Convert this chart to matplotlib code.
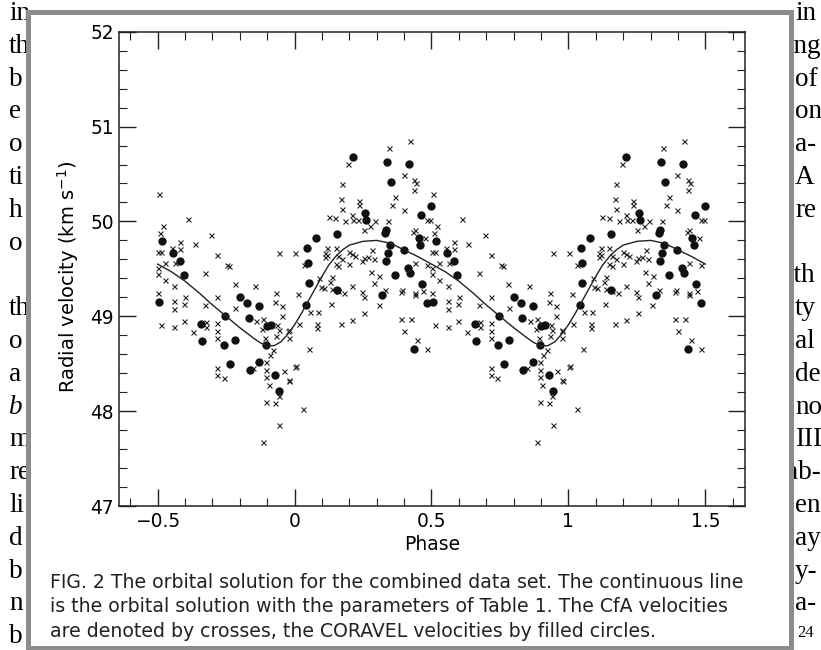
import numpy as np
import matplotlib.pyplot as plt
from matplotlib.patches import Rectangle
from matplotlib.ticker import MultipleLocator

# CfA velocities (crosses), phase read in [-0.5, 0.5)
cfa_phase = [-0.496, -0.39, -0.48, -0.49, -0.417, -0.305, -0.365, -0.498, -0.488, -0.447,
             -0.417, -0.283, -0.435, -0.472, -0.499, -0.247, -0.24, -0.055, 0.001, -0.499,
             -0.474, -0.326, -0.405, -0.44, -0.219, -0.143, -0.499, -0.4, -0.283, -0.067,
             -0.44, -0.44, -0.403, -0.326, -0.216, -0.07, -0.046, -0.115, -0.14, -0.046,
             -0.488, -0.44, -0.403, -0.371, -0.322, -0.322, -0.283, -0.283, -0.283, -0.119,
             -0.064, -0.058, -0.022, -0.067, -0.022, -0.107, -0.077, -0.091, -0.103, 0.003,
             -0.15, -0.103, -0.04, -0.103, -0.022, -0.095, -0.058, -0.283, -0.283, -0.259,
             -0.103, -0.07, -0.055, -0.115,
             0.012, 0.057, 0.085, 0.017, 0.082, 0.082, -0.024, 0.054, 0.005, -0.02,
             0.031, 0.133, 0.182, 0.17, 0.209, 0.248, 0.254, 0.255, 0.307, 0.389,
             0.44, 0.389, 0.426, 0.401, 0.447, 0.483,
             0.422, 0.346, 0.195, 0.398, 0.438, 0.445, 0.173, 0.438, 0.367, 0.17,
             0.236, 0.236, 0.355, 0.398, 0.173, 0.209, 0.124, 0.149, 0.215, 0.231,
             0.185, 0.276, 0.295, 0.343, 0.252, 0.44, 0.485, 0.495, 0.477, 0.434,
             0.44, 0.483, 0.282, 0.255, 0.27, 0.29, 0.246, 0.2, 0.21, 0.22,
             0.16, 0.175, 0.2, 0.12, 0.15, 0.12, 0.16, 0.15, 0.11, 0.11,
             0.28, 0.31, 0.29, 0.392, 0.44, 0.137, 0.13, 0.137, 0.16, 0.09,
             0.095, 0.033, 0.106, 0.209, 0.33, 0.47]
cfa_rv = [50.29, 50.03, 49.95, 49.88, 49.78, 49.86, 49.76, 49.68, 49.68, 49.72,
          49.71, 49.65, 49.56, 49.56, 49.51, 49.54, 49.53, 49.67, 49.67, 49.45,
          49.38, 49.46, 49.43, 49.32, 49.34, 49.32, 49.25, 49.20, 49.20, 49.25,
          49.16, 49.08, 49.13, 49.12, 49.09, 49.15, 49.11, 48.97, 48.95, 49.00,
          48.91, 48.89, 48.95, 48.83, 48.94, 48.89, 48.93, 48.84, 48.77, 48.87,
          48.91, 48.86, 48.86, 48.79, 48.77, 48.77, 48.64, 48.59, 48.52, 48.47,
          48.46, 48.43, 48.42, 48.36, 48.33, 48.28, 48.16, 48.46, 48.38, 48.35,
          48.10, 48.09, 47.85, 47.67,
          49.23, 49.04, 49.04, 48.92, 48.92, 48.88, 48.84, 48.65, 48.48, 48.32,
          48.02, 49.13, 49.25, 48.92, 48.96, 49.26, 49.20, 49.03, 49.12, 49.26,
          49.22, 48.97, 48.97, 48.85, 48.75, 48.65,
          50.85, 50.77, 50.61, 50.49, 50.44, 50.40, 50.39, 50.33, 50.26, 50.24,
          50.22, 50.17, 50.17, 50.12, 50.13, 50.07, 50.05, 50.04, 50.02, 50.02,
          50.00, 49.95, 50.00, 50.00, 49.91, 49.91, 50.02, 50.02, 49.83, 49.89,
          49.56, 49.54, 49.70, 49.61, 49.62, 49.60, 49.58, 49.68, 49.66, 49.64,
          49.64, 49.60, 49.55, 49.72, 49.72, 49.65, 49.53, 49.55, 49.62, 49.67,
          49.47, 49.42, 49.35, 49.28, 49.25, 49.41, 49.36, 49.29, 49.27, 49.40,
          49.31, 49.54, 49.30, 49.32, 49.28, 49.27]

# CORAVEL velocities (filled circles)
cor_phase = [-0.484, -0.445, -0.417, -0.405, -0.2, -0.496, -0.174, -0.129, -0.253, -0.168,
             -0.342, -0.1, -0.085, -0.338, -0.257, -0.216, -0.103, -0.235, -0.131, -0.164,
             -0.07, -0.057, 0.042, 0.155, 0.321, 0.483, 0.438, 0.212, 0.337, 0.419,
             0.353, 0.258, 0.26, 0.462, 0.498, 0.453, 0.459, 0.349, 0.398, 0.343,
             0.335, 0.416, 0.422, 0.367, 0.467, 0.335, 0.33, 0.048, 0.045, 0.078,
             0.155, 0.051]
cor_rv = [49.79, 49.67, 49.58, 49.43, 49.20, 49.15, 49.14, 49.11, 49.00, 48.98,
          48.92, 48.90, 48.91, 48.74, 48.70, 48.75, 48.70, 48.50, 48.52, 48.43,
          48.38, 48.21, 49.12, 49.28, 49.22, 49.14, 48.66, 50.68, 50.63, 50.61,
          50.42, 50.09, 50.02, 50.07, 50.16, 49.83, 49.75, 49.75, 49.70, 49.67,
          49.58, 49.51, 49.46, 49.44, 49.34, 49.91, 49.88, 49.56, 49.72, 49.83,
          49.87, 49.35]

# orbital solution, one cycle
orbit_phase = [-0.5, -0.45, -0.4, -0.35, -0.3, -0.25, -0.2, -0.15, -0.125, -0.1,
               -0.075, -0.05, -0.025, 0.0, 0.025, 0.05, 0.075, 0.1, 0.125, 0.15,
               0.175, 0.2, 0.25, 0.3, 0.35, 0.4, 0.45, 0.5]
orbit_rv = [49.55, 49.47, 49.37, 49.25, 49.12, 49.00, 48.88, 48.77, 48.72, 48.69,
            48.69, 48.73, 48.81, 48.91, 49.03, 49.16, 49.29, 49.42, 49.54, 49.63,
            49.70, 49.75, 49.79, 49.80, 49.77, 49.70, 49.63, 49.55]

caption = ["FIG. 2 The orbital solution for the combined data set. The continuous line",
           "is the orbital solution with the parameters of Table 1. The CfA velocities",
           "are denoted by crosses, the CORAVEL velocities by filled circles."]

# bits of the page text showing round the figure (line number on the page)
left_words = ["in", "th", "b", "e", "o", "ti", "h", "o", "th", "o", "a", "b",
              "m", "re", "li", "d", "b", "n", "b"]
left_line = [0, 1, 2, 3, 4, 5, 6, 7, 9, 10, 11, 12, 13, 14, 15, 16, 17, 18, 19]
right_words = ["in", "ing", "of", "on", "a-", "A", "re", "ith", "ty", "al", "de",
               "no", "III", "ab-", "en", "ay", "y-", "a-"]
right_line = [0, 1, 2, 3, 4, 5, 6, 8, 9, 10, 11, 12, 13, 14, 15, 16, 17, 18]


def fold(phase, rv):
    # data repeated over two cycles, shown from -0.5 to 1.5
    p = np.mod(np.array(phase), 1.0)
    v = np.array(rv)
    xs, ys = [], []
    for shift in (-1, 0, 1):
        x = p + shift
        m = (x >= -0.5) & (x < 1.5)
        xs.append(x[m])
        ys.append(v[m])
    return np.concatenate(xs), np.concatenate(ys)


fig = plt.figure(figsize=(8.21, 6.5), dpi=100)

bg = fig.add_axes([0, 0, 1, 1])
bg.set_xlim(0, 821)
bg.set_ylim(650, 0)
bg.axis('off')
serif = dict(family='Liberation Serif', fontsize=19.5, va='baseline', ha='left', zorder=1)
for w, k in zip(left_words, left_line):
    bg.text(9, 20 + 32.8 * k, w, style='italic' if k == 12 else 'normal', **serif)
for w, k in zip(right_words, right_line):
    bg.text(786 if w in ('ing', 'ith', 'ab-') else 795, 20 + 32.8 * k, w, **serif)
bg.text(797, 637, "24", family='Liberation Serif', fontsize=12, va='baseline', zorder=1)
bg.add_patch(Rectangle((27.5, 12), 763, 635.5, facecolor='white',
                       edgecolor='#8c8c8c', lw=3.6, zorder=2))
for i, line in enumerate(caption):
    bg.text(50, 588 + 24.5 * i, line, family='DejaVu Sans', fontsize=13.6,
            va='baseline', ha='left', color='#222222', zorder=3)

ax = fig.add_axes([119.3 / 821, 1 - 506 / 650, (745 - 119.3) / 821, (506 - 31.7) / 650])
ax.set_zorder(2)

x, y = fold(cfa_phase, cfa_rv)
ax.plot(x, y, 'x', color='#222222', ms=3.6, mew=0.8)
x, y = fold(cor_phase, cor_rv)
ax.plot(x, y, 'o', color='#111111', ms=6, mec='none')

op = np.array(orbit_phase)
orv = np.array(orbit_rv)
ax.plot(np.concatenate([op, op[1:] + 1]), np.concatenate([orv, orv[1:]]),
        color='#222222', lw=1.0)

ax.set_xlim(-0.64, 1.645)
ax.set_ylim(47, 52)
ax.set_xticks([-0.5, 0, 0.5, 1, 1.5])
ax.set_xticklabels(['\u22120.5', '0', '0.5', '1', '1.5'])
ax.set_yticks([47, 48, 49, 50, 51, 52])
ax.xaxis.set_minor_locator(MultipleLocator(0.1))
ax.yaxis.set_minor_locator(MultipleLocator(0.2))
ax.tick_params(which='both', direction='in', top=True, right=True, color='#222222')
ax.tick_params(which='major', length=12, width=1.0, labelsize=13.4, pad=4)
ax.tick_params(which='minor', length=6, width=0.8)
for s in ax.spines.values():
    s.set_linewidth(1.1)
    s.set_color('#222222')
ax.set_xlabel('Phase', fontsize=13.5, labelpad=3)
ax.set_ylabel('Radial velocity (km s$^{-1}$)', fontsize=14, labelpad=5)
ax.yaxis.set_label_coords(-0.062, 0.483)

fig.savefig('out.png', dpi=100)
